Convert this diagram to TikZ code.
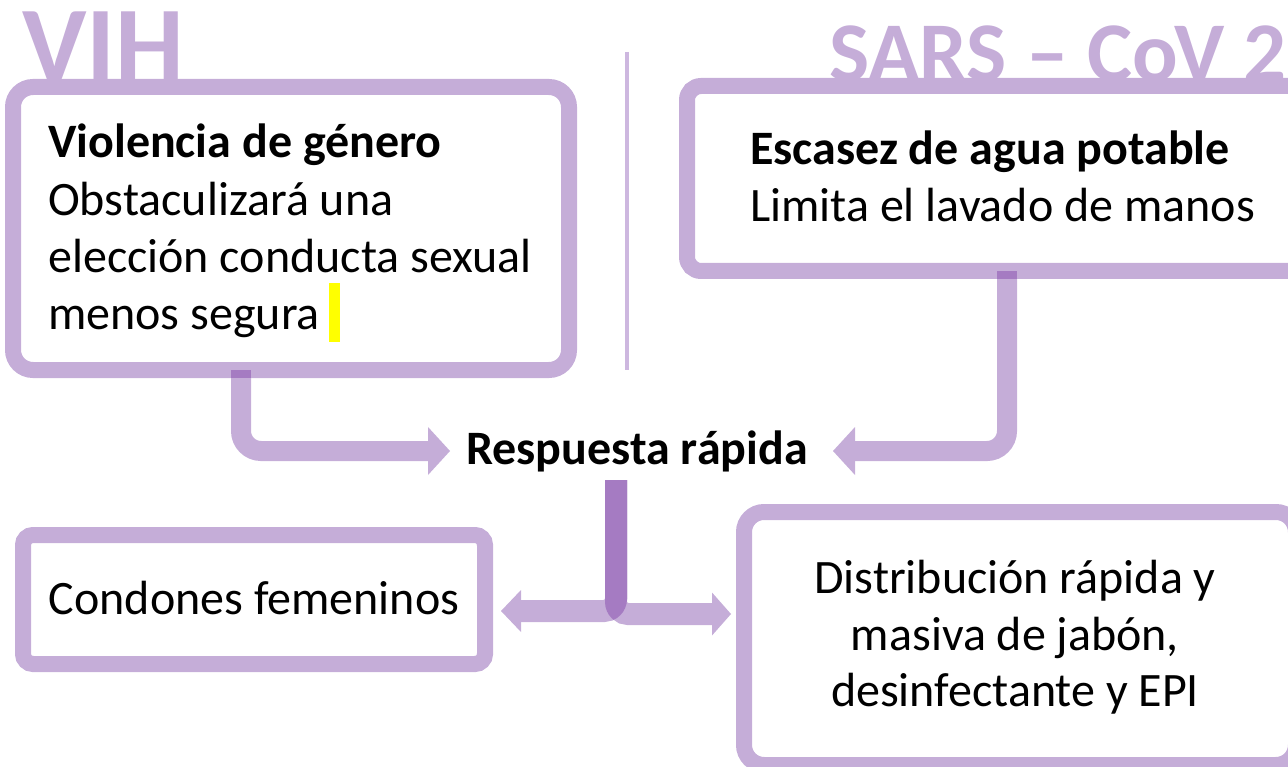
\documentclass[tikz,border=0pt]{standalone}
\usepackage{fontspec}
\setmainfont{Carlito}
\usetikzlibrary{calc}
\definecolor{lp}{HTML}{C5ADD8}
\definecolor{dp}{HTML}{A57BC2}
\definecolor{divc}{HTML}{CDB7DF}
\definecolor{hl}{HTML}{FFFF00}
\begin{document}
\begin{tikzpicture}[x=1pt,y=-1pt,
  box/.style={draw=lp,line width=16pt,inner sep=0pt,outer sep=0pt,rectangle},
  body/.style={font=\fontsize{48}{58}\selectfont,inner sep=0pt},
  ttl/.style={text=lp,inner sep=0pt},
  shaft/.style={draw=lp,line width=20pt},
  head/.style={fill=lp}]
\useasboundingbox (0,0) rectangle (1288,767);
\clip (0,0) rectangle (1288,767);

% titles
\node[ttl,font=\fontsize{109}{120}\selectfont\bfseries,anchor=base west] (tv) at (22,83) {VIH};
\node[ttl,font=\fontsize{85}{100}\selectfont\bfseries,anchor=base west] (ts) at (829,82) {SARS – CoV 2};

% divider
\draw[divc,line width=4pt] (627,52) -- (627,370);

% boxes
\node[box,rounded corners=20pt,minimum width=556pt,minimum height=283pt] (b1) at (291,228.5) {};
\node[box,rounded corners=14pt,minimum width=625pt,minimum height=185pt] (b2) at (999.5,178.5) {};
\node[box,rounded corners=10pt,minimum width=462pt,minimum height=129pt] (b3) at (254,599.5) {};
\node[box,rounded corners=20pt,minimum width=552pt,minimum height=253pt] (b4) at (1020,638.5) {};

% box texts
\node[body,anchor=base west] (t11) at (48,158) {\textbf{Violencia de género}};
\node[body,anchor=base west] (t12) at (48,216) {Obstaculizará una};
\node[body,anchor=base west] (t13) at (48,273) {elección conducta sexual};
\node[body,anchor=base west] (t14) at (48,330) {menos segura};
\fill[hl] (329,283) rectangle (340,342);

\node[body,anchor=base west] (t21) at (750,165) {\textbf{Escasez de agua potable}};
\node[body,anchor=base west] (t22) at (750,222) {Limita el lavado de manos};

\node[body,anchor=base] (resp) at (637,464) {\textbf{Respuesta rápida}};

\node[body,anchor=base] (t3) at (254,614) {Condones femeninos};

\node[body,anchor=base] (t41) at (1015,593) {Distribución rápida y};
\node[body,anchor=base] (t42) at (1015,650) {masiva de jabón,};
\node[body,anchor=base] (t43) at (1015,706) {desinfectante y EPI};

% arrow coordinates
\coordinate (lt) at (450,451);
\coordinate (rt) at (833,451);
\coordinate (cs) at (616,480);
\coordinate (cl) at (501,611);
\coordinate (cr) at (731,614);

% side arrows
\draw[shaft,rounded corners=20pt] ($(b1.south)+(-50,0)$) |- ($(lt)+(-22,0)$);
\fill[head] (lt) -- ++(-22,-24) -- ++(0,48) -- cycle;
\draw[shaft,rounded corners=20pt] ($(b2.south)+(7.5,0)$) |- ($(rt)+(22,0)$);
\fill[head] (rt) -- ++(22,-24) -- ++(0,48) -- cycle;

% centre arrows
\draw[shaft,line width=22pt,rounded corners=12pt] (cs) |- ($(cl)+(20,0)$);
\fill[head] (cl) -- ++(20,-21) -- ++(0,42) -- cycle;
\draw[shaft,line width=22pt,rounded corners=12pt] (cs) |- ($(cr)+(-19,0)$);
\fill[head] (cr) -- ++(-19,-21.5) -- ++(0,43) -- cycle;

% overlaps (darker)
\fill[dp] ($(b1.south)+(-60,0)$) rectangle ($(b1.south)+(-40,8)$);
\fill[dp] ($(b2.south)+(-2.5,0)$) rectangle ($(b2.south)+(17.5,8)$);
\begin{scope}
  \clip[rounded corners=23pt] (400,400) -- (627,400) -- (627,622) -- (400,622) -- cycle;
  \clip (590,480) rectangle (640,640);
  \fill[dp,rounded corners=23pt] (605,400) -- (605,625) -- (830,625) -- (830,400) -- cycle;
\end{scope}
\end{tikzpicture}
\end{document}
